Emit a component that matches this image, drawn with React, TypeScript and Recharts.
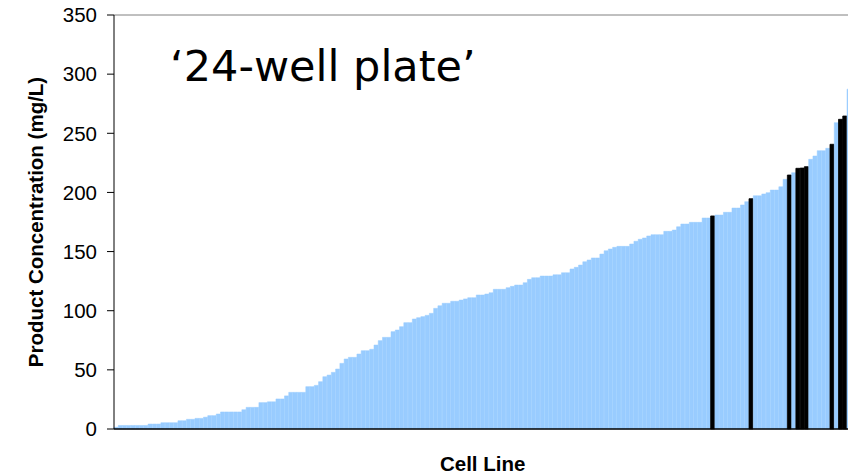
import { BarChart, Bar, XAxis, YAxis, Cell, Label, ReferenceLine } from "recharts";

// product concentration (mg/L) per cell line, ranked low -> high
const concentrations: number[] = [
  1.5, 3, 3, 3, 3, 3, 3, 3, 4.2, 4.2,
  4.2, 5.3, 5.3, 5.3, 5.3, 7, 7, 8.2, 8.2, 9,
  9, 10, 11.3, 11.3, 12.7, 14.4, 14.4, 14.4, 14.4, 14.4,
  16.3, 18.3, 18.3, 18.3, 22.3, 22.3, 23, 23, 25.4, 25.4,
  28, 31, 31, 31, 31, 35.8, 35.8, 36.9, 40, 44.2,
  45.6, 47.9, 50.7, 55.5, 59.2, 60.6, 60.6, 63.4, 66.2, 66.2,
  67.4, 71, 74.7, 77.5, 77.5, 82.3, 83.7, 86.5, 89.9, 89.9,
  93, 94.1, 95, 96.1, 97.8, 102, 104.2, 106.3, 106.3, 108,
  108, 109, 110, 111, 111, 113.3, 113.3, 114.1, 115.2, 118.1,
  118.1, 118.1, 119.5, 120.6, 121.7, 121.7, 123.7, 126.5, 127.9, 127.9,
  129.3, 129.3, 129.3, 130.4, 130.4, 132.1, 132.1, 135.3, 136.7, 138.6,
  141.4, 142.9, 144.6, 144.6, 147.9, 150.7, 152.2, 153.6, 154.4, 154.4,
  154.4, 156.4, 158.7, 160.4, 161.5, 163.2, 164.3, 164.3, 164.3, 167.1,
  167.1, 168.2, 171, 173.3, 173.3, 174.7, 174.7, 174.7, 178.4, 178.4,
  180.1, 180.9, 180.9, 183.2, 183.2, 186.8, 186.8, 189.4, 192.2, 194.7,
  197.2, 197.2, 198.7, 199.8, 202, 202, 204.8, 211.1, 214.7, 216.7,
  220.4, 220.6, 221.8, 228, 230.8, 235.3, 235.3, 237.3, 240.7, 259,
  261.8, 264.6, 287.3,
];

// positions (in the ranking) of the cell lines shown in black
const selected: number[] = [140, 149, 158, 160, 161, 162, 168, 170, 171];

const cellLines: string[] = concentrations.map((_, i) => `CL${i + 1}`);
const yTicks: number[] = [0, 50, 100, 150, 200, 250, 300, 350];

const data = concentrations.map((v, i) => ({ cell: cellLines[i], conc: v }));

const BLUE = "#99CCFF";
const FONT = "Liberation Sans, Arial, sans-serif";

export default function App() {
  return (
    <div style={{ position: "fixed", left: 0, top: 0, width: 848, height: 476, overflow: "hidden", background: "#fff" }}>
      <BarChart
        width={870}
        height={476}
        data={data}
        margin={{ top: 15, right: 18.7, left: 18, bottom: 7 }}
        barCategoryGap={0}
        barGap={0}
      >
        <XAxis
          dataKey="cell"
          tick={false}
          tickLine={false}
          axisLine={{ stroke: "#000", strokeWidth: 1.5 }}
          height={40}
        >
          <Label
            value="Cell Line"
            position="insideBottom"
            offset={-2}
            style={{ fontFamily: FONT, fontWeight: "bold", fontSize: 20.5, fill: "#000" }}
          />
        </XAxis>
        <YAxis
          domain={[0, 350]}
          ticks={yTicks}
          width={96}
          tickSize={7}
          tickMargin={10}
          axisLine={{ stroke: "#000" }}
          tickLine={{ stroke: "#000" }}
          tick={{ fill: "#000", fontSize: 20.5, fontFamily: FONT }}
        >
          <Label
            content={(props: any) => {
              const vb = props.viewBox || {};
              const cx = vb.x + 17;
              const cy = vb.y + vb.height / 2;
              return (
                <text
                  x={cx}
                  y={cy}
                  transform={`rotate(-90 ${cx} ${cy})`}
                  textAnchor="middle"
                  dominantBaseline="central"
                  style={{ fontFamily: FONT, fontWeight: "bold", fontSize: 20.5, fill: "#000" }}
                >
                  Product Concentration (mg/L)
                </text>
              );
            }}
          />
        </YAxis>
        <ReferenceLine y={350} stroke="#808080" strokeWidth={1} />
        <Bar dataKey="conc" isAnimationActive={false}>
          {data.map((d, i) => {
            const hit = selected.includes(i);
            return (
              <Cell
                key={d.cell}
                fill={hit ? "#000" : BLUE}
                stroke={hit ? "#000" : BLUE}
                strokeWidth={hit ? 0.8 : 0.5}
              />
            );
          })}
        </Bar>
      </BarChart>
      <div
        style={{
          position: "absolute",
          left: 170,
          top: 45,
          fontFamily: "DejaVu Sans, Verdana, sans-serif",
          fontSize: 43,
          lineHeight: 1,
          color: "#000",
          whiteSpace: "nowrap",
        }}
      >
        ‘24-well plate’
      </div>
    </div>
  );
}
